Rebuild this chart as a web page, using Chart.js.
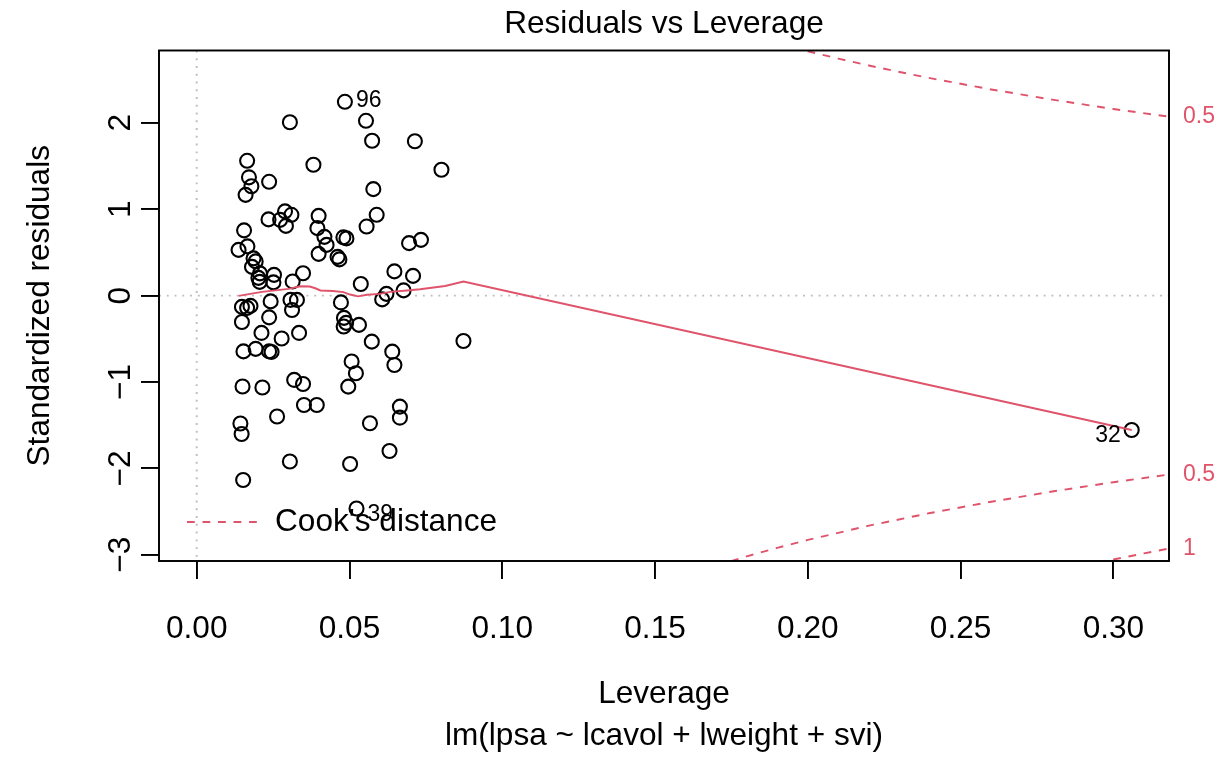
<!DOCTYPE html>
<html>
<head>
<meta charset="utf-8">
<script src="https://cdn.jsdelivr.net/npm/chart.js@4/dist/chart.umd.min.js"></script>
<style>
  html, body { margin: 0; padding: 0; background: #ffffff; }
  #wrap { width: 1218px; height: 757px; }
</style>
</head>
<body>
<div id="wrap"><canvas id="c" width="1218" height="757"></canvas></div>
<script>
// Leverage and standardized residuals of lm(lpsa ~ lcavol + lweight + svi)
const leverage = [
  0.0165, 0.0171, 0.0179, 0.0160, 0.0155, 0.0137, 0.0166, 0.0186, 0.0193, 0.0181,
  0.0207, 0.0202, 0.0206, 0.0148, 0.0165, 0.0176, 0.0148, 0.0153, 0.0193, 0.0212,
  0.0150, 0.0143, 0.0147, 0.0152, 0.0215, 0.0237, 0.0305, 0.0235, 0.0273, 0.0289,
  0.0310, 0.0292, 0.0253, 0.0251, 0.0314, 0.0348, 0.0242, 0.0307, 0.0328, 0.0312,
  0.0237, 0.0278, 0.0335, 0.0237, 0.0245, 0.0319, 0.0348, 0.0351, 0.0263, 0.0305,
  0.0382, 0.0485, 0.0554, 0.0574, 0.0578, 0.0399, 0.0589, 0.0556, 0.0395, 0.0418,
  0.0425, 0.0480, 0.0490, 0.0399, 0.0461, 0.0467, 0.0537, 0.0472, 0.0482, 0.0489,
  0.0481, 0.0531, 0.0573, 0.0507, 0.0521, 0.0496, 0.0393, 0.0567, 0.0502, 0.0523,
  0.0607, 0.0714, 0.0801, 0.0695, 0.0734, 0.0647, 0.0708, 0.0677, 0.0621, 0.0873,
  0.0640, 0.0647, 0.0665, 0.0665, 0.0631, 0.3060
];
const stdResid = [
  1.560, 1.369, 1.265, 1.166, 0.755, 0.529, 0.570, 0.431, 0.396, 0.332,
  0.257, 0.205, 0.159, -0.131, -0.142, -0.119, -0.305, -0.646, -0.617, -0.432,
  -1.052, -1.480, -1.602, -2.134, -1.063, 1.317, 2.006, 0.882, 0.877, 0.975,
  0.935, 0.807, 0.240, 0.153, 0.164, 0.259, -0.067, -0.050, -0.050, -0.166,
  -0.252, -0.496, -0.432, -0.646, -0.652, -0.976, -1.023, -1.266, -1.399, -1.920,
  1.514, 2.243, 2.023, 1.792, 1.232, 0.923, 0.935, 0.799, 0.781, 0.680,
  0.587, 0.674, 0.662, 0.483, 0.448, 0.419, 0.135, -0.079, -0.258, -0.316,
  -0.357, -0.339, -0.533, -0.762, -0.899, -1.054, -1.266, -1.478, -1.949, -2.464,
  -0.044, 1.786, 1.456, 0.607, 0.645, 0.280, 0.228, 0.060, 0.020, -0.525,
  -0.649, -0.803, -1.285, -1.413, -1.798, -1.555
];

// Observations named on the plot (index into the arrays above)
const idText  = ['96', '39', '32'];
const idIndex = [51, 79, 95];
const idSide  = ['right', 'right', 'left'];

// Smoothed trend of the residuals against leverage
const smoothLev = [0.0137, 0.0214, 0.0301, 0.0338, 0.0370, 0.0388, 0.0405, 0.0446, 0.0480, 0.0502,
                   0.0528, 0.0557, 0.0600, 0.0633, 0.0688, 0.0731, 0.0813, 0.0873, 0.3060];
const smoothRes = [-0.003, 0.043, 0.078, 0.109, 0.105, 0.085, 0.060, 0.054, 0.040, 0.012,
                   -0.009, 0.010, 0.020, 0.043, 0.060, 0.074, 0.112, 0.162, -1.555];

// Cook's distance contours (0.5 above and below, 1 below)
const cookHalfUpLev = [0.195, 0.20, 0.21, 0.22, 0.23, 0.24, 0.26, 0.28, 0.30, 0.3182];
const cookHalfUpRes = [2.873, 2.828, 2.743, 2.663, 2.588, 2.517, 2.386, 2.268, 2.160, 2.071];
const cookHalfLoLev = [0.170, 0.18, 0.19, 0.20, 0.22, 0.24, 0.26, 0.28, 0.30, 0.3182];
const cookHalfLoRes = [-3.125, -3.018, -2.920, -2.828, -2.663, -2.517, -2.386, -2.268, -2.160, -2.071];
const cookOneLoLev  = [0.29, 0.30, 0.31, 0.3182];
const cookOneLoRes  = [-3.129, -3.055, -2.984, -2.928];
const cookLevelLabels = ['0.5', '0.5', '1'];

// Axis ticks and ranges
const xTicks = [0, 0.05, 0.10, 0.15, 0.20, 0.25, 0.30];
const yTicks = [-3, -2, -1, 0, 1, 2];
const X_MIN = -0.01234, X_MAX = 0.3182;
const Y_MIN = -3.072, Y_MAX = 2.837;

const FONT = '"Liberation Sans", Arial, Helvetica, sans-serif';
const RED = '#DF536B';
const GREY = '#BEBEBE';
const BASE = 31.6;
const SMALL = 23;
const LWD = 1.94;

const pts = (xs, ys) => xs.map((x, i) => ({ x: x, y: ys[i] }));
const fmtMinus = v => (v < 0 ? '\u2212' + Math.abs(v) : String(v));

const frame = {
  id: 'frame',
  beforeDatasetsDraw(chart) {
    const { ctx, chartArea: a, scales } = chart;
    const x0 = scales.x.getPixelForValue(0);
    const y0 = scales.y.getPixelForValue(0);
    ctx.save();
    ctx.beginPath();
    ctx.rect(a.left, a.top, a.right - a.left, a.bottom - a.top);
    ctx.clip();
    ctx.strokeStyle = GREY;
    ctx.lineWidth = LWD;
    ctx.setLineDash([LWD, LWD * 3]);
    ctx.beginPath();
    ctx.moveTo(a.left, y0); ctx.lineTo(a.right, y0);
    ctx.moveTo(x0, a.top); ctx.lineTo(x0, a.bottom);
    ctx.stroke();
    ctx.restore();
  },
  afterDatasetsDraw(chart) {
    const { ctx, chartArea: a } = chart;
    ctx.save();
    // plot box
    ctx.strokeStyle = '#000';
    ctx.lineWidth = LWD;
    ctx.setLineDash([]);
    ctx.strokeRect(a.left, a.top, a.right - a.left, a.bottom - a.top);

    // title
    ctx.fillStyle = '#000';
    ctx.font = BASE + 'px ' + FONT;
    ctx.textAlign = 'center';
    ctx.textBaseline = 'alphabetic';
    ctx.fillText('Residuals vs Leverage', (a.left + a.right) / 2, 33);

    // legend
    const ly = a.bottom - 39;
    ctx.strokeStyle = RED;
    ctx.lineWidth = LWD;
    ctx.setLineDash([LWD * 4, LWD * 4]);
    ctx.beginPath();
    ctx.moveTo(a.left + 28, ly);
    ctx.lineTo(a.left + 101, ly);
    ctx.stroke();
    ctx.setLineDash([]);
    ctx.textAlign = 'left';
    ctx.textBaseline = 'middle';
    ctx.fillText("Cook's distance", a.left + 116, ly);

    // observation ids
    const meta = chart.getDatasetMeta(1);
    const idDy = [-1, 6, 6];
    ctx.font = SMALL + 'px ' + FONT;
    idIndex.forEach((k, j) => {
      const el = meta.data[k];
      if (!el) return;
      const right = idSide[j] === 'right';
      ctx.textAlign = right ? 'left' : 'right';
      ctx.textBaseline = 'middle';
      ctx.fillText(idText[j], el.x + (right ? 11 : -11), el.y + idDy[j]);
    });
    ctx.restore();
  }
};

const cookStyle = {
  showLine: true,
  borderColor: RED,
  borderWidth: LWD,
  borderDash: [LWD * 4, LWD * 4],
  pointRadius: 0,
  fill: false,
  tension: 0,
  clip: 0
};

new Chart(document.getElementById('c'), {
  type: 'scatter',
  data: {
    datasets: [
      {
        data: pts(smoothLev, smoothRes),
        showLine: true,
        borderColor: RED,
        borderWidth: LWD,
        pointRadius: 0,
        tension: 0,
        fill: false
      },
      {
        data: pts(leverage, stdResid),
        pointRadius: 7,
        pointBorderWidth: 2.1,
        pointBorderColor: '#000',
        pointBackgroundColor: 'rgba(0,0,0,0)',
        showLine: false
      },
      Object.assign({ data: pts(cookHalfUpLev, cookHalfUpRes) }, cookStyle),
      Object.assign({ data: pts(cookHalfLoLev, cookHalfLoRes) }, cookStyle),
      Object.assign({ data: pts(cookOneLoLev, cookOneLoRes) }, cookStyle)
    ]
  },
  options: {
    responsive: false,
    devicePixelRatio: 1,
    animation: false,
    events: [],
    layout: { padding: { top: 50.5, left: 0, right: 0, bottom: 0 } },
    plugins: { legend: { display: false }, tooltip: { enabled: false }, title: { display: false } },
    scales: {
      x: {
        type: 'linear',
        min: X_MIN,
        max: X_MAX,
        afterBuildTicks: s => { s.ticks = xTicks.map(v => ({ value: v })); },
        afterFit: s => { s.height = 196; },
        ticks: {
          callback: v => Number(v).toFixed(2),
          font: { family: FONT, size: BASE },
          color: '#000',
          padding: 31,
          autoSkip: false,
          minRotation: 0,
          maxRotation: 0
        },
        grid: { drawOnChartArea: false, drawTicks: true, tickLength: 18, color: '#000', lineWidth: LWD },
        border: { display: false },
        title: {
          display: true,
          text: ['Leverage', 'lm(lpsa ~ lcavol + lweight + svi)'],
          color: '#000',
          font: { family: FONT, size: BASE, lineHeight: '42px' },
          padding: { top: 0, bottom: 0 }
        }
      },
      y: {
        type: 'linear',
        min: Y_MIN,
        max: Y_MAX,
        afterBuildTicks: s => { s.ticks = yTicks.map(v => ({ value: v })); },
        afterFit: s => { s.width = 159; },
        ticks: {
          callback: v => fmtMinus(v),
          font: { family: FONT, size: BASE },
          color: '#000',
          padding: 2,
          autoSkip: false,
          minRotation: 90,
          maxRotation: 90,
          crossAlign: 'center'
        },
        grid: { drawOnChartArea: false, drawTicks: true, tickLength: 18, color: '#000', lineWidth: LWD },
        border: { display: false },
        title: {
          display: true,
          text: 'Standardized residuals',
          color: '#000',
          font: { family: FONT, size: BASE },
          padding: { top: 21, bottom: 0 }
        }
      },
      y2: {
        type: 'linear',
        position: 'right',
        min: Y_MIN,
        max: Y_MAX,
        afterBuildTicks: s => {
          s.ticks = [cookHalfUpRes.at(-1), cookHalfLoRes.at(-1), cookOneLoRes.at(-1)].map(v => ({ value: v }));
        },
        afterFit: s => { s.width = 49; },
        ticks: {
          callback: (v, i) => cookLevelLabels[i],
          font: { family: FONT, size: SMALL },
          color: RED,
          padding: 14,
          autoSkip: false
        },
        grid: { display: false, drawTicks: false },
        border: { display: false }
      }
    }
  },
  plugins: [frame]
});
</script>
</body>
</html>
